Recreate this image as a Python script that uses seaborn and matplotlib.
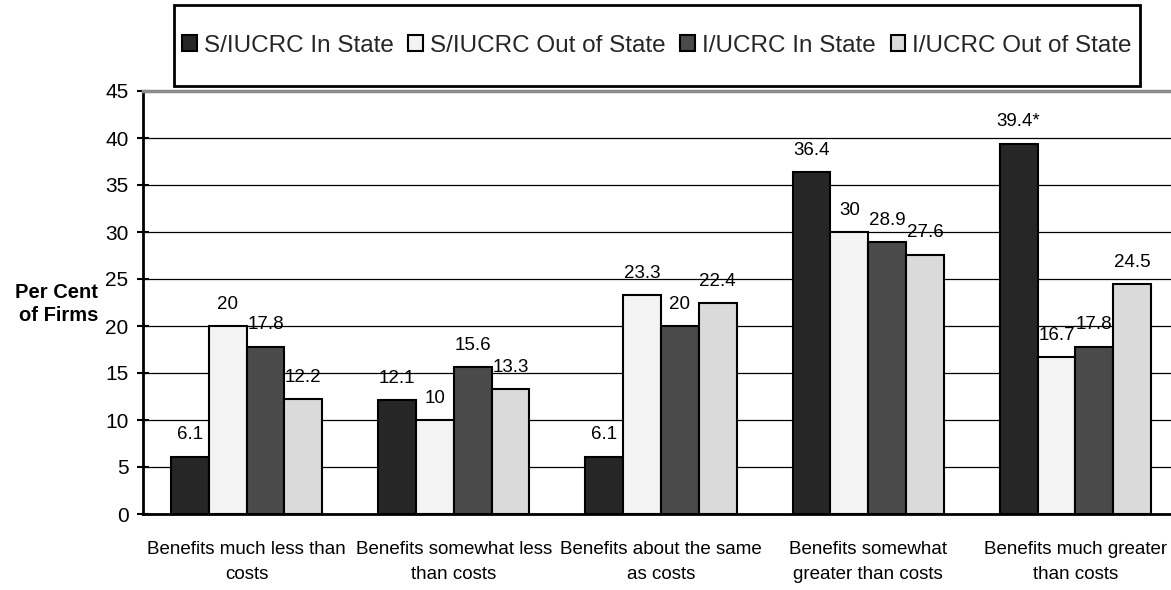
import matplotlib
matplotlib.use("Agg")
import matplotlib.pyplot as plt
import seaborn as sns
import pandas as pd
from matplotlib.patches import Rectangle

categories = [
    "Benefits much less than\ncosts",
    "Benefits somewhat less\nthan costs",
    "Benefits about the same\nas costs",
    "Benefits somewhat\ngreater than costs",
    "Benefits much greater\nthan costs",
]
series_names = ["S/IUCRC In State", "S/IUCRC Out of State", "I/UCRC In State", "I/UCRC Out of State"]
s_in = [6.1, 12.1, 6.1, 36.4, 39.4]
s_out = [20, 10, 23.3, 30, 16.7]
i_in = [17.8, 15.6, 20, 28.9, 17.8]
i_out = [12.2, 13.3, 22.4, 27.6, 24.5]
s_in_labels = ["6.1", "12.1", "6.1", "36.4", "39.4*"]
s_out_labels = ["20", "10", "23.3", "30", "16.7"]
i_in_labels = ["17.8", "15.6", "20", "28.9", "17.8"]
i_out_labels = ["12.2", "13.3", "22.4", "27.6", "24.5"]
y_ticks = [0, 5, 10, 15, 20, 25, 30, 35, 40, 45]
colors = ["#262626", "#f3f3f3", "#4a4a4a", "#dadada"]

sns.set_theme(style="white")
plt.rcParams["font.family"] = ["Liberation Sans", "DejaVu Sans"]

rows = []
for name, vals in zip(series_names, [s_in, s_out, i_in, i_out]):
    for c, v in zip(categories, vals):
        rows.append({"category": c, "series": name, "value": v})
df = pd.DataFrame(rows)

fig = plt.figure(figsize=(11.71, 5.90), dpi=100)
ax = fig.add_axes([143 / 1171, 76 / 590, 1036 / 1171, 423 / 590])

sns.barplot(data=df, x="category", y="value", hue="series", order=categories,
            hue_order=series_names, palette=colors, width=0.73, ax=ax,
            edgecolor="black", linewidth=1.5, saturation=1, errorbar=None)

handles, labels = ax.get_legend_handles_labels()
if ax.get_legend() is not None:
    ax.get_legend().remove()

for cont, labs in zip(ax.containers, [s_in_labels, s_out_labels, i_in_labels, i_out_labels]):
    ax.bar_label(cont, labels=labs, padding=9.5, fontsize=13.5, color="black")

ax.set_xlim(-0.5, 4.5)
ax.set_ylim(0, 45)
ax.set_yticks(y_ticks)
ax.set_yticklabels([str(t) for t in y_ticks], fontsize=15, color="black")
ax.yaxis.grid(True, color="black", linewidth=0.9)
ax.xaxis.grid(False)
ax.set_axisbelow(True)

ax.set_xticks(range(len(categories)))
ax.set_xticklabels(categories, fontsize=13.5, color="black", linespacing=1.6)
ax.set_xticks([i - 0.5 for i in range(len(categories) + 1)], minor=True)
ax.tick_params(axis="x", which="major", length=0, pad=19.5)
ax.tick_params(axis="x", which="minor", length=8, width=1.5, direction="out", color="black")
ax.tick_params(axis="y", which="major", length=9, width=1.5, direction="inout", color="black", pad=6, left=True)

ax.set_xlabel("")
ax.set_ylabel("")
for side in ["left", "bottom"]:
    ax.spines[side].set_color("black")
    ax.spines[side].set_linewidth(2)
ax.spines["right"].set_visible(False)
ax.spines["top"].set_color("#8c8c8c")
ax.spines["top"].set_linewidth(2.5)

fig.text(98 / 1171, 1 - 304 / 590, "Per Cent\nof Firms", ha="right", va="center",
         fontsize=14.5, fontweight="bold", color="black", linespacing=1.25)

fig.patches.append(Rectangle((174 / 1171, 1 - 86 / 590), 966 / 1171, 81 / 590,
                             transform=fig.transFigure, fill=False, edgecolor="black",
                             linewidth=2, zorder=5))
fig.legend(handles, labels, loc="center", bbox_to_anchor=(657 / 1171, 1 - 45.5 / 590),
           ncol=4, frameon=False, fontsize=17.5, handlelength=0.6, handleheight=0.6,
           handletextpad=0.3, columnspacing=0.6, borderpad=0)

fig.savefig("out.png", dpi=100)
